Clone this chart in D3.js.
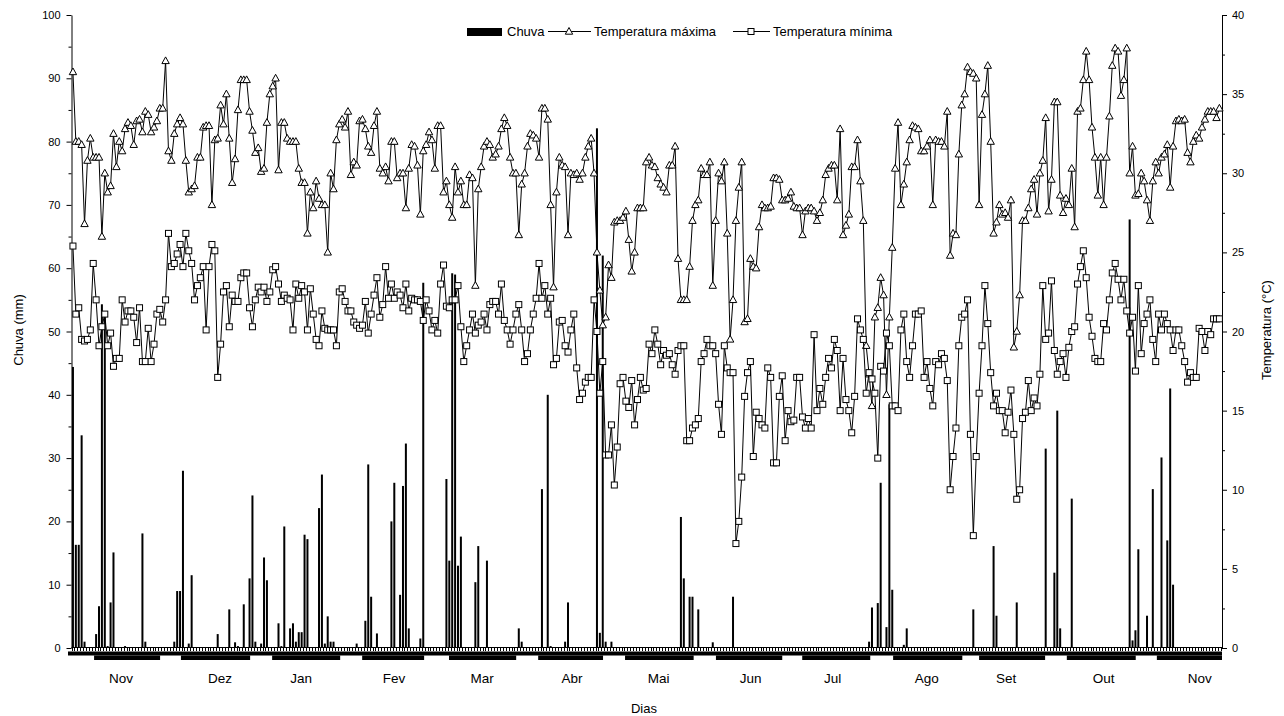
<!doctype html>
<html>
<head>
<meta charset="utf-8">
<title>Chuva e temperatura</title>
<script src="https://cdn.jsdelivr.net/npm/d3@7"></script>
<style>
  body { margin: 0; background: #fff; }
  svg text { font-family: "Liberation Sans", Arial, sans-serif; fill: #000; }
</style>
</head>
<body>
<svg id="chart" width="1284" height="716"></svg>
<script>
// daily maximum temperature (°C), one value per day
var tmax = [
  36.4,32.0,32.0,31.8,26.8,30.8,32.2,31.0,31.0,31.0,26.0,30.0,28.8,29.2,32.5,30.4,32.0,31.4,32.8,33.2,
  33.0,31.8,33.3,33.4,32.6,33.9,33.7,32.6,32.9,33.3,34.1,34.1,37.1,31.4,30.8,32.5,33.1,33.5,33.1,30.8,
  28.8,29.0,29.2,31.0,31.0,32.9,
  33.0,33.0,28.0,32.1,32.2,34.3,33.1,35.0,32.2,29.4,30.9,34.0,35.9,35.9,35.9,33.9,32.7,31.3,31.6,30.1,
  30.3,33.2,35.0,35.5,36.0,30.2,33.2,33.2,32.2,32.0,32.0,32.0,30.3,29.4,29.4,26.2,28.8,27.8,29.5,28.4,
  28.0,28.0,25.0,30.0,29.0,32.1,33.1,33.4,32.9,33.9,
  29.9,30.7,30.5,33.3,33.4,32.8,31.7,31.3,33.0,33.9,30.3,30.0,30.4,29.5,32.0,32.0,29.7,30.0,30.0,27.8,
  30.3,31.8,31.7,30.5,27.4,31.4,31.8,32.6,32.1,30.3,33.0,33.0,28.8,29.5,28.0,27.2,30.4,28.8,29.5,28.0,
  28.0,29.9,29.7,22.9,29.0,30.4,31.7,32.0,31.8,31.0,
  31.2,31.7,32.8,33.5,33.0,31.0,30.0,30.0,26.1,29.3,30.0,31.7,32.5,32.4,32.2,31.0,34.1,34.1,33.4,28.0,
  22.8,28.8,31.0,30.5,30.4,26.1,30.0,29.9,30.0,29.6,30.0,31.0,31.7,32.2,30.0,25.0,22.6,20.4,20.9,24.2,
  23.4,26.9,27.0,27.0,27.2,27.6,25.8,23.8,25.0,27.8,
  27.8,27.8,30.7,31.0,30.5,30.4,29.7,29.3,29.1,28.8,30.5,30.5,31.7,24.6,22.0,22.0,22.0,24.1,27.0,28.0,
  28.3,30.3,29.9,29.9,30.7,22.9,27.0,30.0,29.5,30.7,26.2,19.5,22.0,27.0,29.1,30.7,20.6,20.8,24.6,24.1,
  24.0,26.6,28.0,27.8,27.8,27.9,29.7,29.7,29.6,28.3,
  28.3,28.4,28.8,27.9,27.8,27.8,26.1,27.6,27.8,27.8,27.6,27.0,27.5,28.3,29.9,30.3,30.5,30.5,28.3,32.8,
  26.1,26.7,27.4,30.4,30.4,32.1,29.5,27.0,19.1,17.3,15.3,20.9,21.5,23.4,22.3,16.0,20.9,25.3,30.3,33.2,
  28.0,29.3,30.7,32.1,33.0,32.9,32.8,31.4,31.4,31.7,32.1,
  28.0,32.1,32.0,32.0,31.7,33.9,24.8,26.2,26.1,31.2,34.3,35.0,36.7,36.4,36.3,36.0,28.0,33.7,35.0,36.8,
  32.0,26.2,26.9,28.0,27.4,27.5,27.2,28.3,19.0,20.0,22.3,27.0,27.0,27.8,29.0,29.6,27.4,30.0,30.8,33.5,
  27.6,29.6,34.5,34.5,28.6,27.5,28.4,28.0,30.3,26.6,
  33.9,34.1,35.9,37.7,35.9,32.9,31.0,28.6,31.0,28.0,31.0,33.6,36.8,37.9,37.7,34.9,35.9,37.9,30.0,31.7,
  28.6,28.7,30.0,29.5,28.3,27.0,29.5,30.7,30.0,31.0,31.2,31.8,29.1,31.7,33.3,33.4,33.3,33.4,31.3,30.7,
  32.0,32.4,32.2,32.9,33.4,33.9,33.9,33.9,33.5,34.1
];

// daily minimum temperature (°C)
var tmin = [
  25.4,21.1,21.5,19.5,19.4,19.5,20.1,24.3,22.0,19.1,20.3,21.1,19.1,19.9,17.8,18.3,18.3,22.0,20.6,21.3,
  21.3,20.9,19.3,21.5,18.1,18.1,20.2,18.1,19.2,21.1,21.4,20.6,22.0,26.2,24.1,24.3,24.9,25.5,24.1,26.2,
  25.1,24.3,22.0,22.9,23.4,24.1,
  20.1,24.1,25.5,25.1,17.1,19.2,22.5,22.9,20.3,22.3,21.9,21.9,23.4,23.7,23.7,21.5,20.3,22.0,22.8,22.5,
  22.8,21.9,22.5,23.9,24.1,23.0,21.9,22.3,22.1,22.0,20.1,23.0,22.1,22.9,22.5,20.1,22.7,21.1,19.5,19.1,
  21.3,20.2,20.1,20.1,20.1,19.1,22.5,22.7,21.9,21.3,
  21.3,20.6,20.4,20.2,20.4,21.9,19.9,21.1,22.3,23.4,20.9,21.7,24.1,22.1,23.0,22.1,22.5,22.3,21.5,23.0,
  21.3,22.1,22.0,22.0,21.9,20.7,22.0,21.3,20.1,20.7,19.9,23.0,24.2,21.6,21.5,22.0,22.0,22.9,20.3,18.1,
  19.1,20.1,21.1,19.9,20.4,20.6,21.1,20.1,21.7,21.9,
  21.9,21.1,23.0,20.7,20.1,19.2,20.1,21.1,21.7,20.1,18.1,18.6,20.1,21.1,22.1,24.3,22.1,22.9,21.1,22.1,
  17.9,18.3,20.6,20.7,19.1,18.7,20.1,21.1,17.7,15.7,16.1,16.8,17.1,17.1,22.0,20.0,16.1,18.1,12.2,12.2,
  14.1,10.3,12.7,16.7,17.1,15.6,15.2,16.9,14.1,15.7,
  17.1,16.3,16.4,19.2,18.6,20.1,19.2,17.9,18.8,18.5,18.6,17.9,17.3,18.8,19.1,19.1,13.1,13.1,13.9,14.1,
  14.5,18.1,18.6,19.5,19.1,19.1,18.6,15.4,13.5,19.1,17.7,17.4,17.4,6.6,8.0,10.8,15.9,17.4,18.1,12.1,
  14.9,14.5,14.1,13.9,17.7,17.1,11.7,11.7,15.9,17.2,
  13.1,15.0,14.3,14.4,17.1,17.1,14.6,13.9,14.5,13.9,19.8,15.0,16.4,15.4,17.1,18.3,17.7,19.5,18.8,15.0,
  18.3,15.7,15.0,13.6,15.9,20.8,20.1,19.5,16.1,17.4,17.0,16.1,12.0,17.8,17.5,19.9,19.1,15.3,15.3,15.0,
  20.1,21.1,18.1,17.1,19.1,21.1,21.1,21.3,17.1,18.1,16.4,
  15.3,18.1,17.9,18.6,18.3,16.9,10.0,12.1,13.9,19.1,20.9,21.1,22.0,13.5,7.1,12.1,16.1,19.1,22.9,20.5,
  17.4,15.3,16.1,15.0,15.0,13.6,14.9,16.3,13.5,9.4,10.0,14.5,14.9,16.9,15.0,15.8,15.3,17.3,22.9,19.5,
  19.9,23.2,18.8,17.3,18.1,18.6,17.1,19.0,20.0,20.3,
  23.0,24.1,25.1,23.4,20.9,19.7,18.3,18.1,18.1,20.5,20.1,22.0,23.7,24.3,23.3,22.0,23.3,21.3,19.9,20.9,
  17.5,22.9,18.6,20.5,21.1,22.0,19.5,18.1,21.1,20.1,21.1,20.5,20.1,18.8,20.1,20.1,19.1,18.1,16.8,17.4,
  17.1,17.1,20.2,20.0,18.8,20.0,19.8,20.8,20.8,20.8
];

// rain (mm): day index and amount, days without rain are left out
var rainDay = [0,1,2,3,4,8,9,10,11,12,13,14,18,24,25,35,36,37,38,40,41,
  50,54,56,57,59,61,62,63,65,66,67,71,72,73,75,76,77,78,79,80,81,85,86,87,88,89,90,
  98,101,102,103,105,110,111,113,114,115,116,120,121,129,130,131,132,133,134,139,140,143,
  154,155,162,164,165,170,171,181,182,183,184,186,
  210,211,213,214,216,221,228,
  275,276,278,279,281,282,283,287,288,
  311,318,319,326,336,339,340,341,345,
  365,366,367,368,371,373,376,378,379,380];
var rainMm = [44.4,16.3,16.3,33.6,1.0,2.2,6.6,54.3,52.6,0.3,7.2,15.1,0.3,18.1,1.0,1.0,9.0,9.0,28.0,0.7,11.5,
  2.2,6.1,0.9,0.3,6.9,11.0,24.1,1.0,0.7,14.3,10.7,3.9,0.3,19.2,3.1,3.9,1.0,2.5,2.5,17.9,17.2,22.1,27.4,0.7,5.0,1.0,1.0,
  0.7,4.3,29.0,8.1,2.3,20.0,26.1,8.4,25.6,32.3,3.1,1.5,57.7,26.7,13.8,59.2,59.0,13.0,17.6,10.4,16.1,13.8,
  3.1,1.0,25.1,40.0,0.3,1.0,7.2,82.1,2.4,62.0,1.0,1.0,
  20.7,11.0,8.1,8.1,6.1,0.9,8.1,
  1.0,6.4,7.1,26.1,3.3,38.5,9.2,0.5,3.1,
  6.1,16.1,5.1,7.2,31.5,11.9,37.5,3.1,23.6,
  67.7,1.2,2.8,15.6,5.1,25.1,30.1,17.0,41.0,10.0];

// month bands under the axis (day index where each band starts and ends) and label positions
var monthNames = ["Nov","Dez","Jan","Fev","Mar","Abr","Mai","Jun","Jul","Ago","Set","Out","Nov"];
var monthStart = [7.3,37.3,68.8,99.9,129.9,160.7,190.7,222.1,251.9,283.3,313.0,343.3,374.4];
var monthEnd   = [30.1,61.2,92.3,121.3,153.1,183.1,214.4,245.0,275.4,307.2,335.8,367.1,396.9];
var monthLabelAt = [16.6,50.8,78.8,110.9,141.3,172.4,202.3,234.1,262.4,294.9,322.3,356.0,389.2];

var rainTicks = d3.range(0, 101, 10);
var tempTicks = d3.range(0, 41, 5);

var svg = d3.select("#chart");
var nDays = Math.min(tmax.length, tmin.length);

var left = 71.5, right = 1222;
var x = d3.scaleLinear().domain([-0.5, 396.9]).range([left, right]);
var yRain = d3.scaleLinear().domain([0, 100]).range([648, 15]);
var yTemp = d3.scaleLinear().domain([0, 40]).range([648, 15]);

// left axis (rain)
svg.append("g")
    .attr("transform", "translate(" + left + ",0)")
    .call(d3.axisLeft(yRain).tickValues(d3.range(5, 100, 10)).tickSize(3).tickFormat(""))
    .call(g => g.select(".domain").remove());
svg.append("g")
    .attr("transform", "translate(" + left + ",0)")
    .call(d3.axisLeft(yRain).tickValues(rainTicks).tickSize(5).tickSizeOuter(0).tickPadding(6))
    .call(g => g.selectAll("text").attr("font-size", 11).attr("font-family", "Liberation Sans, Arial, sans-serif"));

// right axis (temperature)
svg.append("g")
    .attr("transform", "translate(" + right + ",0)")
    .call(d3.axisRight(yTemp).tickValues(d3.range(2.5, 40, 5)).tickSize(3).tickFormat(""))
    .call(g => g.select(".domain").remove());
svg.append("g")
    .attr("transform", "translate(" + right + ",0)")
    .call(d3.axisRight(yTemp).tickValues(tempTicks).tickSize(5).tickSizeOuter(0).tickPadding(5))
    .call(g => g.selectAll("text").attr("font-size", 11).attr("font-family", "Liberation Sans, Arial, sans-serif"));

// bottom axis: line, one tick per day, solid strip and month bands
svg.append("line")
    .attr("x1", left).attr("x2", right).attr("y1", 647.5).attr("y2", 647.5)
    .attr("stroke", "#000");
svg.append("g").selectAll("line")
    .data(d3.range(0, nDays + 1))
    .join("line")
    .attr("x1", d => Math.round(x(d - 0.5)) + 0.5)
    .attr("x2", d => Math.round(x(d - 0.5)) + 0.5)
    .attr("y1", 647).attr("y2", 651)
    .attr("stroke", "#000");
svg.append("rect")
    .attr("x", 68).attr("y", 651.5)
    .attr("width", right - 68).attr("height", 4)
    .attr("fill", "#000");
svg.append("g").selectAll("rect")
    .data(monthNames)
    .join("rect")
    .attr("x", (d, i) => x(monthStart[i]))
    .attr("y", 655.5)
    .attr("width", (d, i) => x(monthEnd[i]) - x(monthStart[i]))
    .attr("height", 4.5)
    .attr("fill", "#000");
svg.append("g").selectAll("text")
    .data(monthNames)
    .join("text")
    .attr("x", (d, i) => x(monthLabelAt[i]))
    .attr("y", 683)
    .attr("text-anchor", "middle")
    .attr("font-size", 13.5)
    .text(d => d);

// rain bars
svg.append("g").selectAll("rect")
    .data(rainDay)
    .join("rect")
    .attr("x", (d) => x(d) - 1)
    .attr("y", (d, i) => yRain(rainMm[i]))
    .attr("width", 2)
    .attr("height", (d, i) => yRain(0) - yRain(rainMm[i]))
    .attr("fill", "#000");

var line = d3.line()
    .x((d, i) => x(i))
    .y(d => yTemp(d));

var triangle = "M0,-4L3.7,2.7L-3.7,2.7Z";

// maximum temperature
svg.append("path")
    .datum(tmax.slice(0, nDays))
    .attr("d", line)
    .attr("fill", "none")
    .attr("stroke", "#000")
    .attr("stroke-width", 1);
svg.append("g").selectAll("path")
    .data(tmax.slice(0, nDays))
    .join("path")
    .attr("d", triangle)
    .attr("transform", (d, i) => "translate(" + x(i) + "," + yTemp(d) + ")")
    .attr("fill", "#fff")
    .attr("stroke", "#000")
    .attr("stroke-width", 1);

// minimum temperature
svg.append("path")
    .datum(tmin.slice(0, nDays))
    .attr("d", line)
    .attr("fill", "none")
    .attr("stroke", "#000")
    .attr("stroke-width", 1);
svg.append("g").selectAll("rect")
    .data(tmin.slice(0, nDays))
    .join("rect")
    .attr("x", (d, i) => x(i) - 3)
    .attr("y", d => yTemp(d) - 3)
    .attr("width", 6).attr("height", 6)
    .attr("fill", "#fff")
    .attr("stroke", "#000")
    .attr("stroke-width", 1);

// axis titles
svg.append("text")
    .attr("transform", "translate(23,330) rotate(-90)")
    .attr("text-anchor", "middle")
    .attr("font-size", 13)
    .text("Chuva (mm)");
svg.append("text")
    .attr("transform", "translate(1271,330) rotate(-90)")
    .attr("text-anchor", "middle")
    .attr("font-size", 13)
    .text("Temperatura (°C)");
svg.append("text")
    .attr("x", 644).attr("y", 713)
    .attr("text-anchor", "middle")
    .attr("font-size", 13)
    .text("Dias");

// legend
var legend = svg.append("g");
legend.append("rect")
    .attr("x", 467).attr("y", 28).attr("width", 35).attr("height", 8)
    .attr("fill", "#000");
legend.append("text").attr("x", 507).attr("y", 36).attr("font-size", 13).text("Chuva");
legend.append("line")
    .attr("x1", 548).attr("x2", 591).attr("y1", 31.5).attr("y2", 31.5)
    .attr("stroke", "#000");
legend.append("path")
    .attr("d", triangle)
    .attr("transform", "translate(569,31.5)")
    .attr("fill", "#fff").attr("stroke", "#000");
legend.append("text").attr("x", 594).attr("y", 36).attr("font-size", 13).text("Temperatura máxima");
legend.append("line")
    .attr("x1", 733).attr("x2", 770).attr("y1", 31.5).attr("y2", 31.5)
    .attr("stroke", "#000");
legend.append("rect")
    .attr("x", 748).attr("y", 28.5).attr("width", 6).attr("height", 6)
    .attr("fill", "#fff").attr("stroke", "#000");
legend.append("text").attr("x", 773).attr("y", 36).attr("font-size", 13).text("Temperatura mínima");
</script>
</body>
</html>
